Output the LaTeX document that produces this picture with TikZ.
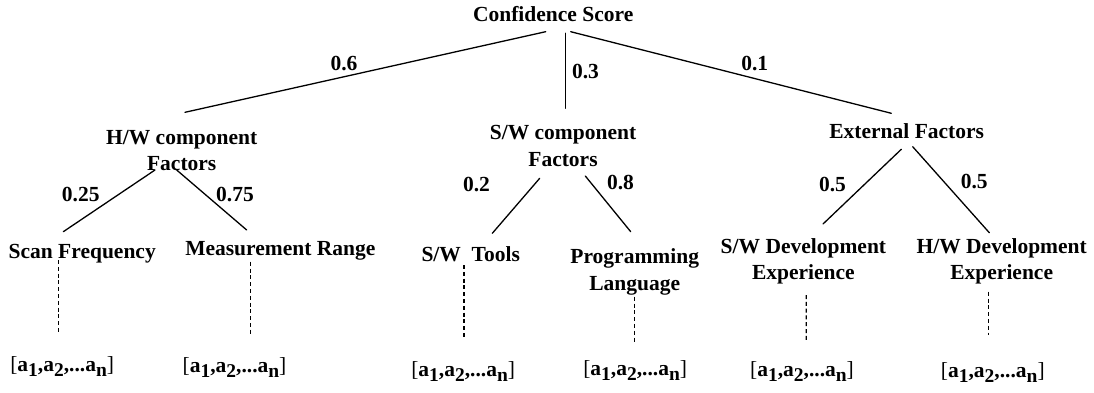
\documentclass[tikz,border=0pt]{standalone}
\usepackage{fontspec}
\setmainfont{Liberation Serif}
\newcommand{\lsub}[1]{\raisebox{-5pt}{\fontsize{19.5}{19.5}\selectfont #1}}
\newcommand{\arrtext}{\mdseries[\textbf{a\lsub{1},a\lsub{2},...a\lsub{n}}]}
\begin{document}
\begin{tikzpicture}[x=1pt,y=-1pt,
  every node/.style={inner sep=0pt,outer sep=0pt,font=\fontsize{21.5}{26.5}\selectfont\bfseries},
  factor/.style={align=center,anchor=center},
  wlabel/.style={anchor=center},
  arrnode/.style={anchor=base},
  edge/.style={line width=1.3pt,line cap=round},
  dots/.style={line width=1.2pt,dash pattern=on 4pt off 2.8pt}]
\useasboundingbox (0,0) rectangle (1094,393);

% nodes
\node[factor] (root) at (553.2,16.6) {\strut Confidence Score};
\node[factor] (hw) at (181.7,152.3) {\strut H/W component\\\strut Factors};
\node[factor] (sw) at (563,147.6) {\strut S/W component\\\strut Factors};
\node[factor] (ext) at (906.7,133.3) {\strut External Factors};
\node[factor] (scan) at (82.2,253.3) {\strut Scan Frequency};
\node[factor] (meas) at (280.3,249.9) {\strut Measurement Range};
\node[factor] (tools) at (470.7,256.6) {\strut S/W~ Tools};
\node[factor] (prog) at (634.7,271.6) {\strut Programming\\\strut Language};
\node[factor] (swdev) at (803.4,261.1) {\strut S/W Development\\\strut Experience};
\node[factor] (hwdev) at (1001.7,261.2) {\strut H/W Development\\\strut Experience};

\node[arrnode] (arr1) at (62.2,371) {\arrtext};
\node[arrnode] (arr2) at (234.5,372) {\arrtext};
\node[arrnode] (arr3) at (463.2,376) {\arrtext};
\node[arrnode] (arr4) at (635.2,375) {\arrtext};
\node[arrnode] (arr5) at (802,376) {\arrtext};
\node[arrnode] (arr6) at (992.8,377) {\arrtext};

% weight labels
\node[wlabel] (w1) at (344,63.3) {0.6};
\node[wlabel] (w2) at (585.5,71.7) {0.3};
\node[wlabel] (w3) at (754.7,63.3) {0.1};
\node[wlabel] (w4) at (80.8,195) {0.25};
\node[wlabel] (w5) at (235,195) {0.75};
\node[wlabel] (w6) at (476.5,185) {0.2};
\node[wlabel] (w7) at (620.5,182.7) {0.8};
\node[wlabel] (w8) at (832.5,185) {0.5};
\node[wlabel] (w9) at (974.2,181.7) {0.5};

% tree edges
\draw[edge] ([shift={(-7.5,15.1)}]root.center) -- ([shift={(3.3,-40)}]hw.center);
\draw[edge] ([shift={(12.1,16.7)}]root.center) -- ([shift={(2.3,-39.3)}]sw.center);
\draw[edge] ([shift={(17.5,15.1)}]root.center) -- ([shift={(-15.4,-20)}]ext.center);

\draw[edge] ([shift={(-26.7,17.7)}]hw.center) -- ([shift={(-18.9,-21.6)}]scan.center);
\draw[edge] ([shift={(-5,17.7)}]hw.center) -- ([shift={(-33.6,-19.9)}]meas.center);

\draw[edge] ([shift={(-23.3,30.7)}]sw.center) -- ([shift={(21.6,-23.3)}]tools.center);
\draw[edge] ([shift={(22.3,28.4)}]sw.center) -- ([shift={(-4,-39.9)}]prog.center);

\draw[edge] ([shift={(-5.4,16)}]ext.center) -- ([shift={(19.6,-37.1)}]swdev.center);
\draw[edge] ([shift={(6,13.4)}]ext.center) -- ([shift={(-12.4,-28.5)}]hwdev.center);

% dashed links to attribute vectors
\draw[dots] ([shift={(-23.9,6.7)}]scan.center) -- ([shift={(-3.9,-39.3)}]arr1.base);
\draw[dots] ([shift={(-29.6,11.8)}]meas.center) -- ([shift={(16.2,-37)}]arr2.base);
\draw[dots] ([shift={(-6.7,8.4)}]tools.center) -- ([shift={(0.8,-37.7)}]arr3.base);
\draw[dots] ([shift={(0,25.1)}]prog.center) -- ([shift={(-0.5,-33.3)}]arr4.base);
\draw[dots] ([shift={(2.9,33.9)}]swdev.center) -- ([shift={(4.3,-36)}]arr5.base);
\draw[dots] ([shift={(-13,30.5)}]hwdev.center) -- ([shift={(-4.1,-42)}]arr6.base);
\end{tikzpicture}
\end{document}
